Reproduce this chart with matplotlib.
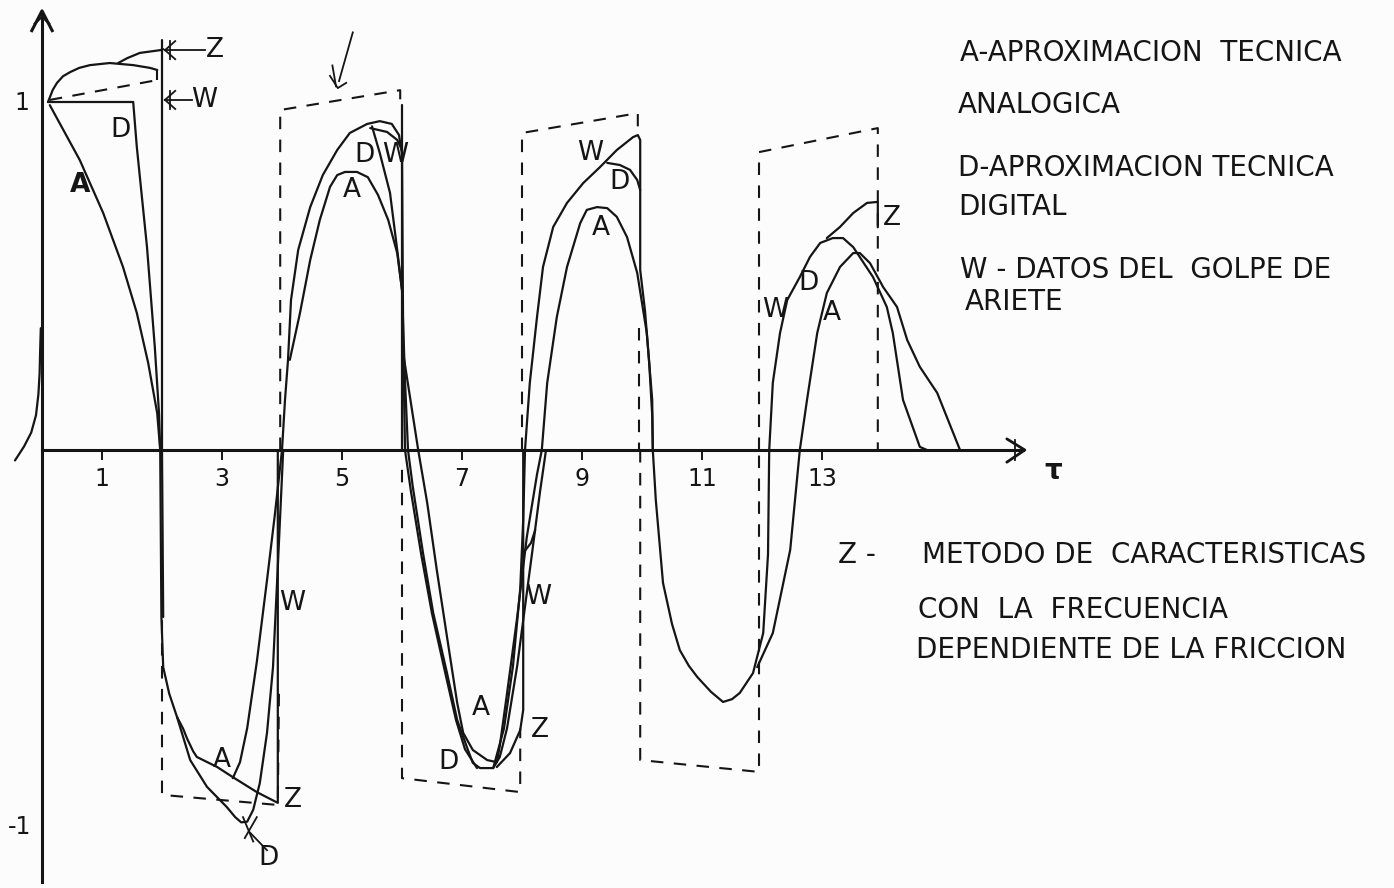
import matplotlib
matplotlib.use("Agg")
import matplotlib.pyplot as plt

INK = "#151515"
PAPER = "#fcfcfc"
LETTER = ["Liberation Sans Narrow", "DejaVu Sans"]

# ---------------- curves: dimensionless time tau vs dimensionless head ----------------
# A: analog technique, D: digital technique, W: water-hammer data, Z: method of characteristics

# start-up of the transient next to the head axis
rise_t = [-0.45, -0.30, -0.18, -0.10, -0.06, -0.04, -0.03, -0.02]
rise_p = [-0.03, 0.01, 0.05, 0.10, 0.16, 0.22, 0.29, 0.35]

# first half period (0 < tau < 2)
z1_t = [0.10, 0.18, 0.25, 0.35, 0.47, 0.62, 0.80, 1.13, 1.52, 1.80, 1.92]
z1_p = [1.00, 1.035, 1.055, 1.074, 1.086, 1.098, 1.106, 1.112, 1.106, 1.098, 1.092]
z1b_t = [1.27, 1.42, 1.63, 1.97, 2.02]
z1b_p = [1.112, 1.126, 1.141, 1.149, 1.152]
w1_t = [2.00, 2.00, 2.02]
w1_p = [1.178, 0.0, -0.48]
d1_t = [0.10, 1.52, 1.58, 1.75, 1.88, 1.95, 1.97]
d1_p = [1.00, 1.00, 0.871, 0.583, 0.296, 0.106, 0.0]
a1_t = [0.13, 0.63, 1.02, 1.35, 1.58, 1.77, 1.92, 1.97]
a1_p = [0.991, 0.833, 0.681, 0.526, 0.394, 0.250, 0.106, 0.0]

# first trough (2 < tau < 4)
d2_t = [1.97, 1.99, 2.02, 2.12, 2.25, 2.47, 2.75, 3.08, 3.22, 3.32, 3.42, 3.52, 3.63, 3.75,
        3.85, 3.93, 4.02]
d2_p = [0.0, -0.48, -0.624, -0.70, -0.767, -0.891, -0.968, -1.026, -1.055, -1.070, -1.068,
        -1.034, -0.957, -0.813, -0.624, -0.336, 0.0]
z2_t = [2.25, 2.35, 2.42, 2.52, 2.58, 2.92, 3.18, 3.58, 3.93, 3.93]
z2_p = [-0.767, -0.80, -0.83, -0.866, -0.882, -0.911, -0.940, -0.983, -1.014, 0.0]
a2_t = [3.18, 3.30, 3.42, 3.58, 3.75, 3.88, 4.00]
a2_p = [-0.943, -0.897, -0.799, -0.609, -0.374, -0.187, 0.0]

# second crest (4 < tau < 6)
w3_t = [4.00, 4.05, 4.10, 4.15, 4.27, 4.47, 4.68, 4.92, 5.13, 5.42, 5.63, 5.83, 5.95, 6.00]
w3_p = [0.0, 0.144, 0.259, 0.431, 0.575, 0.698, 0.790, 0.862, 0.911, 0.937, 0.945, 0.937,
        0.905, 0.85]
d3a_t = [5.47, 5.75, 5.92, 6.00]
d3a_p = [0.925, 0.914, 0.891, 0.862]
d3_t = [5.50, 5.63, 5.80, 5.92, 6.00]
d3_p = [0.930, 0.853, 0.739, 0.575, 0.46]
a3_t = [4.13, 4.30, 4.47, 4.63, 4.80, 4.92, 5.05, 5.25, 5.43, 5.60, 5.77, 5.92, 6.00]
a3_p = [0.259, 0.394, 0.546, 0.661, 0.756, 0.790, 0.799, 0.799, 0.784, 0.733, 0.661, 0.566, 0.46]
v3_t = [6.00, 6.00]
v3_p = [0.99, 0.0]

# second trough (6 < tau < 8)
w4_t = [6.00, 6.02, 6.05, 6.15, 6.32, 6.50, 6.72, 6.90, 7.05, 7.25]
w4_p = [0.85, 0.30, 0.0, -0.12, -0.30, -0.47, -0.64, -0.776, -0.86, -0.914]
d4_t = [6.00, 6.05, 6.10, 6.18, 6.35, 6.52, 6.75, 6.92, 7.08, 7.18, 7.30, 7.52, 7.63,
        7.75, 7.92, 8.05, 8.18, 8.30, 8.40]
d4_p = [0.46, 0.20, 0.0, -0.106, -0.296, -0.468, -0.641, -0.776, -0.853, -0.899, -0.914,
        -0.914, -0.882, -0.80, -0.62, -0.45, -0.28, -0.12, 0.0]
a4_t = [6.00, 6.27, 6.42, 6.58, 6.75, 6.92, 7.02, 7.18, 7.42, 7.58, 7.63, 7.75, 7.92, 8.08,
        8.25, 8.33]
a4_p = [0.30, 0.0, -0.152, -0.345, -0.537, -0.727, -0.813, -0.862, -0.891, -0.897, -0.85,
        -0.70, -0.48, -0.25, -0.07, 0.0]
w4r_t = [7.52, 7.70, 7.85, 7.97, 8.02, 8.05]
w4r_p = [-0.914, -0.80, -0.62, -0.40, -0.20, 0.0]
w4b_t = [8.02, 8.15, 8.22]
w4b_p = [-0.296, -0.267, -0.23]
z4_t = [7.58, 7.80, 7.97, 8.02, 8.02]
z4_p = [-0.911, -0.871, -0.805, -0.747, 0.0]

# third crest (8 < tau < 10)
w5_t = [8.05, 8.13, 8.25, 8.35, 8.52, 8.75, 9.02, 9.30, 9.58, 9.85, 9.93, 9.97, 9.97,
        10.05, 10.12, 10.17, 10.18]
w5_p = [0.0, 0.193, 0.382, 0.526, 0.641, 0.710, 0.767, 0.813, 0.862, 0.899, 0.905, 0.891,
        0.517, 0.40, 0.25, 0.10, 0.0]
d5_t = [9.42, 9.63, 9.80, 9.92, 9.97]
d5_p = [0.825, 0.819, 0.805, 0.776, 0.747]
a5_t = [8.33, 8.42, 8.58, 8.75, 8.97, 9.08, 9.25, 9.42, 9.58, 9.75, 9.92, 10.08, 10.17, 10.18]
a5_p = [0.0, 0.193, 0.382, 0.526, 0.652, 0.690, 0.698, 0.695, 0.670, 0.612, 0.509, 0.336,
        0.144, 0.0]

# third trough (10 < tau < 12)
w6_t = [10.18, 10.23, 10.35, 10.50, 10.63, 10.78, 10.92, 11.15, 11.35, 11.50, 11.63, 11.85,
        12.02, 12.10, 12.12]
w6_p = [0.0, -0.144, -0.382, -0.50, -0.575, -0.620, -0.652, -0.695, -0.724, -0.716, -0.698,
        -0.641, -0.526, -0.30, 0.0]
a6_t = [11.92, 12.18, 12.47, 12.63]
a6_p = [-0.624, -0.526, -0.287, 0.0]

# fourth crest (12 < tau < 14) and decay
d7_t = [12.12, 12.18, 12.30, 12.42, 12.63, 12.80, 12.97, 13.18, 13.35, 13.52, 13.85, 14.08,
        14.18, 14.35, 14.63, 14.75]
d7_p = [0.0, 0.193, 0.336, 0.431, 0.497, 0.555, 0.595, 0.609, 0.609, 0.583, 0.497, 0.411,
        0.336, 0.144, 0.009, 0.0]
z7_t = [13.08, 13.30, 13.52, 13.75, 13.93, 13.93]
z7_p = [0.609, 0.641, 0.681, 0.710, 0.713, 0.64]
a7_t = [12.63, 12.75, 12.92, 13.08, 13.30, 13.52, 13.63, 13.80, 14.02, 14.25, 14.42, 14.63,
        14.92, 15.30]
a7_p = [0.0, 0.144, 0.336, 0.451, 0.526, 0.566, 0.566, 0.537, 0.468, 0.411, 0.316, 0.239,
        0.164, 0.0]

# ---------------- dashed half-period frames ----------------
frame_lines = [
    ([0.13, 1.92], [1.006, 1.063]),
    ([1.92, 1.92], [1.063, 1.092]),
    ([2.00, 2.00, 3.93, 3.95], [-0.489, -0.991, -1.020, -0.690]),
    ([3.97, 3.97, 5.97, 5.97], [0.0, 0.977, 1.034, 0.99]),
    ([6.00, 6.00, 7.97, 7.97], [-0.057, -0.943, -0.983, -0.80]),
    ([8.00, 8.00, 9.93, 9.93], [0.0, 0.911, 0.968, 0.93]),
    ([9.95, 9.95], [0.35, 0.0]),
    ([9.97, 9.97, 11.95, 11.95], [0.0, -0.891, -0.925, 0.0]),
    ([11.95, 11.95, 13.93, 13.93], [0.0, 0.856, 0.925, 0.0]),
]

# ---------------- hand-drawn pointers and cross marks ----------------
pointer_lines = [
    ([2.05, 2.72], [1.149, 1.149]), ([2.05, 2.22], [1.149, 1.175]), ([2.05, 2.22], [1.149, 1.123]),
    ([2.13, 2.13], [1.123, 1.175]),
    ([2.05, 2.50], [1.006, 1.006]), ([2.05, 2.22], [1.006, 1.032]), ([2.05, 2.22], [1.006, 0.980]),
    ([2.13, 2.13], [0.980, 1.032]),
    ([3.47, 3.75], [-1.10, -1.15]), ([3.35, 3.52], [-1.055, -1.125]), ([3.38, 3.58], [-1.115, -1.055]),
    ([5.18, 4.95], [1.20, 1.06]), ([4.80, 4.93, 5.07], [1.075, 1.040, 1.055]),
    ([4.84, 4.90], [1.105, 1.045]),
    ([16.22, 16.22], [0.03, -0.03]),
]

# ---------------- lettering ----------------
curve_tags = [
    ("Z", 2.88, 1.149), ("W", 2.70, 1.006), ("D", 1.30, 0.920), ("A", 0.63, 0.761),
    ("D", 5.38, 0.848), ("W", 5.88, 0.848), ("A", 5.17, 0.747),
    ("W", 9.13, 0.853), ("D", 9.63, 0.770), ("A", 9.32, 0.638),
    ("Z", 14.17, 0.667), ("D", 12.77, 0.480), ("W", 12.22, 0.402), ("A", 13.17, 0.394),
    ("W", 4.17, -0.440), ("A", 3.00, -0.891), ("Z", 4.18, -1.006), ("D", 3.77, -1.172),
    ("W", 8.27, -0.422), ("A", 7.32, -0.741), ("Z", 8.30, -0.805), ("D", 6.77, -0.897),
]
legend_rows = [
    ("A-APROXIMACION  TECNICA", 15.30, 1.141),
    ("ANALOGICA", 15.27, 0.991),
    ("D-APROXIMACION TECNICA", 15.27, 0.810),
    ("DIGITAL", 15.27, 0.698),
    ("W - DATOS DEL  GOLPE DE", 15.30, 0.517),
    ("ARIETE", 15.38, 0.425),
    ("Z -", 13.27, -0.302),
    ("METODO DE  CARACTERISTICAS", 14.67, -0.302),
    ("CON  LA  FRECUENCIA", 14.60, -0.460),
    ("DEPENDIENTE DE LA FRICCION", 14.57, -0.575),
]
tau_ticks = [1, 3, 5, 7, 9, 11, 13]
tau_labels = ["1", "3", "5", "7", "9", "11", "13"]

fig = plt.figure(figsize=(13.94, 8.88), dpi=100, facecolor=PAPER)
ax = fig.add_axes([0, 0, 1, 1], facecolor=PAPER)
ax.set_xlim(-0.70, 22.533)
ax.set_ylim(-1.2586, 1.2931)

# axes crossing at the origin
for side in ("top", "right"):
    ax.spines[side].set_visible(False)
ax.spines["left"].set_position(("data", 0))
ax.spines["bottom"].set_position(("data", 0))
ax.spines["left"].set_bounds(-1.24, 1.26)
ax.spines["bottom"].set_bounds(0, 16.35)
for side in ("left", "bottom"):
    ax.spines[side].set_linewidth(2.2)
    ax.spines[side].set_color(INK)
ax.set_yticks([])
ax.set_xticks(tau_ticks)
ax.set_xticklabels(tau_labels, family=LETTER, fontsize=17, color=INK)
ax.tick_params(axis="x", direction="out", length=7, width=1.4, color=INK, pad=5)

# arrow heads of both axes
ax.plot([16.08, 16.38, 16.08], [0.032, 0.0, -0.035], color=INK, lw=2.0, solid_capstyle="round")
ax.plot([-0.17, 0.0, 0.17], [1.205, 1.262, 1.205], color=INK, lw=2.2)
ax.plot([-0.12, 0.0, 0.12], [1.225, 1.245, 1.225], color=INK, lw=1.6)

curves = [
    (rise_t, rise_p),
    (z1_t, z1_p), (z1b_t, z1b_p), (w1_t, w1_p), (d1_t, d1_p), (a1_t, a1_p),
    (d2_t, d2_p), (z2_t, z2_p), (a2_t, a2_p),
    (w3_t, w3_p), (d3a_t, d3a_p), (d3_t, d3_p), (a3_t, a3_p), (v3_t, v3_p),
    (w4_t, w4_p), (d4_t, d4_p), (a4_t, a4_p), (w4r_t, w4r_p), (w4b_t, w4b_p), (z4_t, z4_p),
    (w5_t, w5_p), (d5_t, d5_p), (a5_t, a5_p),
    (w6_t, w6_p), (a6_t, a6_p),
    (d7_t, d7_p), (z7_t, z7_p), (a7_t, a7_p),
]
for t, p in curves:
    ax.plot(t, p, color=INK, lw=1.6, solid_joinstyle="round", solid_capstyle="round")

for t, p in frame_lines:
    ax.plot(t, p, color=INK, lw=1.5, dashes=(6, 5))

for t, p in pointer_lines:
    ax.plot(t, p, color=INK, lw=1.3)

for txt, t, p in curve_tags:
    weight = "bold" if (txt == "A" and t < 1) else "normal"
    ax.text(t, p, txt, family=LETTER, fontsize=19, color=INK, ha="center", va="center",
            fontweight=weight)

ax.text(-0.33, 0.997, "1", family=LETTER, fontsize=17, color=INK, ha="center", va="center")
ax.annotate("-1", xy=(-0.37, -1.0), xytext=(0, -12), textcoords="offset points",
            family=LETTER, fontsize=17, color=INK, ha="center", va="top")
ax.text(16.85, -0.06, "τ", fontsize=20, color=INK, ha="center", va="center",
        fontweight="bold")

for txt, t, p in legend_rows:
    ax.text(t, p, txt, family=LETTER, fontsize=20, color=INK, ha="left", va="center")

fig.savefig("out.png", dpi=100, facecolor=PAPER)
